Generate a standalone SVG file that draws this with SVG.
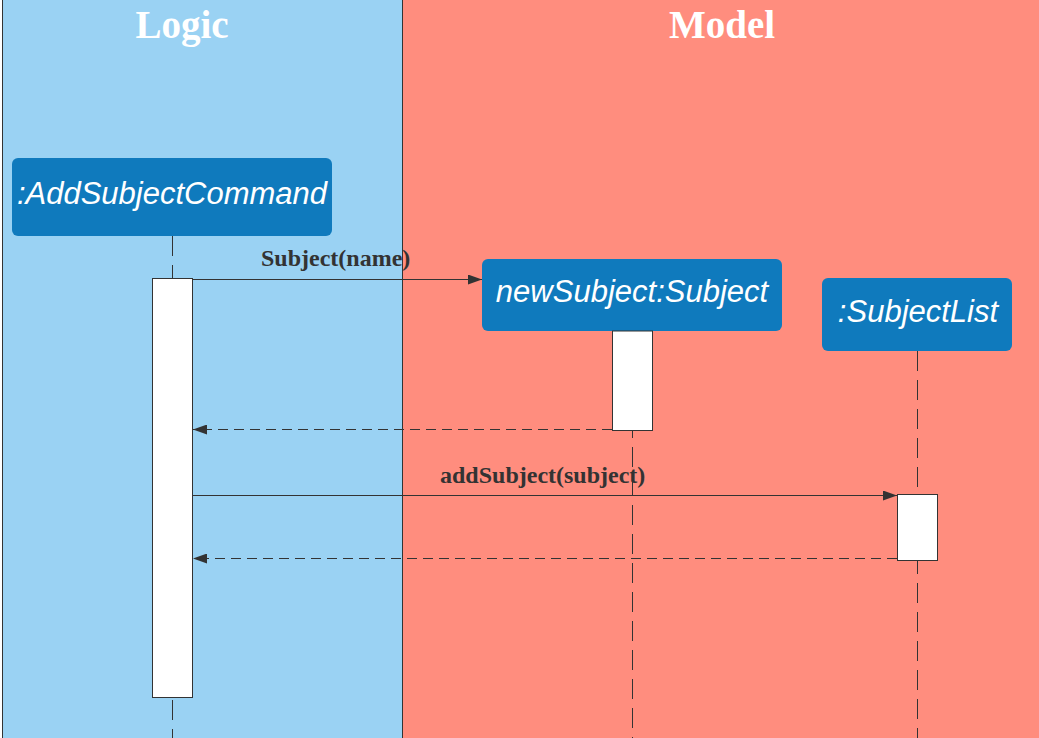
<svg xmlns="http://www.w3.org/2000/svg" width="1039" height="738" viewBox="0 0 1039 738">
<defs>
<style>
.lane-title{font-family:"Liberation Serif",serif;font-weight:bold;font-size:39px;fill:#ffffff;text-anchor:middle}
.node{fill:#0f7abd}
.node-text{font-family:"Liberation Sans",Arial,sans-serif;font-style:italic;font-size:31px;fill:#ffffff;text-anchor:middle}
.life{stroke:#333333;stroke-width:1;stroke-dasharray:20 9;fill:none}
.act{fill:#ffffff;stroke:#333333;stroke-width:1}
.msg{stroke:#333333;stroke-width:1;fill:none}
.ret{stroke:#333333;stroke-width:1;stroke-dasharray:10 6;fill:none}
.label{font-family:"Liberation Serif",serif;font-weight:bold;font-size:24px;fill:#333333}
</style>
<marker id="arrow" viewBox="0 0 14 10" refX="14" refY="5" markerWidth="14" markerHeight="10" markerUnits="userSpaceOnUse" orient="auto">
<path d="M0,0 L14,5 L0,10 z" fill="#333333"/>
</marker>
</defs>
<g id="lanes">
<rect x="2" y="0" width="400" height="738" fill="#9ad2f3"/>
<rect x="402" y="0" width="637" height="738" fill="#ff8d7e"/>
<line x1="2.5" y1="0" x2="2.5" y2="738" stroke="#333333" stroke-width="1"/>
<line x1="402.5" y1="0" x2="402.5" y2="738" stroke="#333333" stroke-width="1"/>
<text class="lane-title" x="182" y="38">Logic</text>
<text class="lane-title" x="722" y="38">Model</text>
</g>
<g id="lifelines">
<line class="life" x1="172.5" y1="236" x2="172.5" y2="738"/>
<line class="life" x1="632.5" y1="331" x2="632.5" y2="738"/>
<line class="life" x1="917.5" y1="351" x2="917.5" y2="738"/>
</g>
<g id="node-addsubjectcommand">
<rect class="node" x="12" y="158" width="320" height="78" rx="6"/>
<text class="node-text" x="172" y="204">:AddSubjectCommand</text>
<rect class="act" x="152.5" y="278.5" width="40" height="419"/>
</g>
<g id="node-newsubject">
<rect class="node" x="482" y="259" width="300" height="72" rx="6"/>
<text class="node-text" x="632" y="302">newSubject:Subject</text>
<rect class="act" x="612.5" y="331" width="40" height="99.5"/>
</g>
<g id="node-subjectlist">
<rect class="node" x="822" y="278" width="190" height="73" rx="6"/>
<text class="node-text" x="918" y="322">:SubjectList</text>
<rect class="act" x="897.5" y="494.5" width="40" height="66"/>
</g>
<g id="connectors">
<line class="msg" x1="193" y1="279.5" x2="482" y2="279.5" marker-end="url(#arrow)"/>
<text class="label" x="261" y="266">Subject(name)</text>
<line class="ret" x1="612" y1="429.5" x2="193" y2="429.5" marker-end="url(#arrow)"/>
<line class="msg" x1="193" y1="495.5" x2="897" y2="495.5" marker-end="url(#arrow)"/>
<text class="label" x="440" y="483">addSubject(subject)</text>
<line class="ret" x1="897" y1="558.5" x2="193" y2="558.5" marker-end="url(#arrow)"/>
</g>
</svg>
